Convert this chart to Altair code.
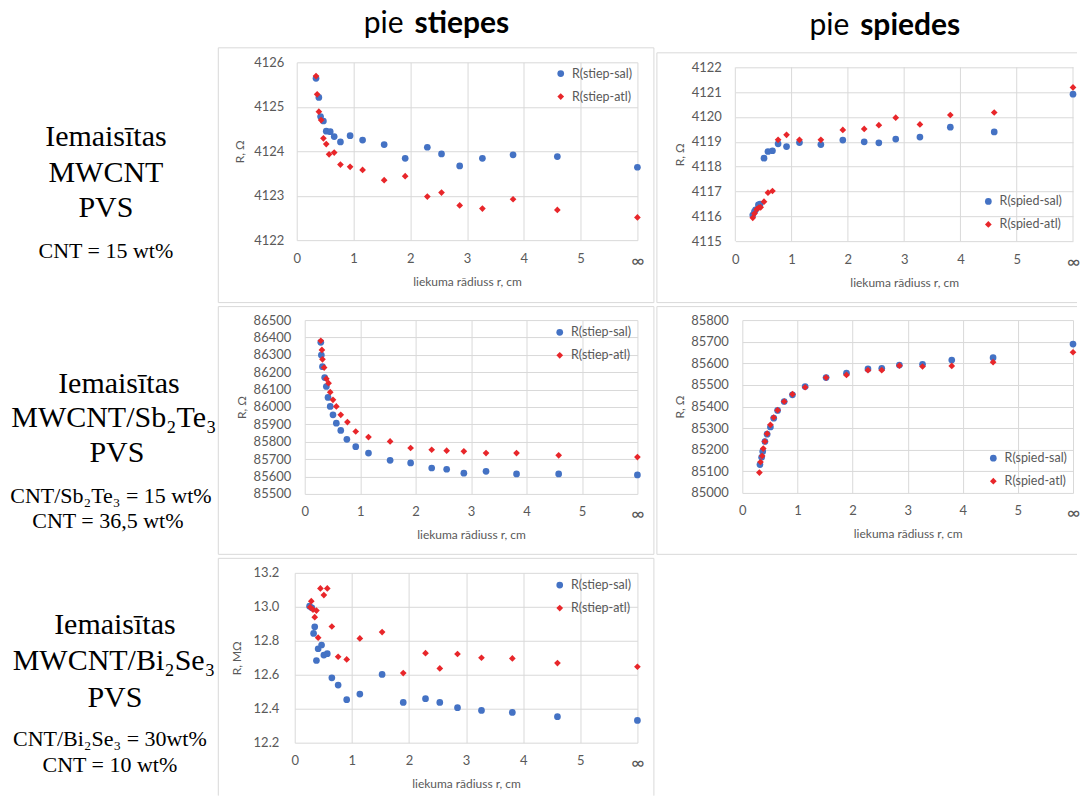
import altair as alt
import pandas as pd

# ---------------- data ----------------
# Panel 1: MWCNT, stiepes
p1_sal_r = [0.34, 0.39, 0.42, 0.47, 0.52, 0.59, 0.66, 0.77, 0.94, 1.16, 1.54, 1.91, 2.30, 2.55, 2.87, 3.27, 3.81, 4.59, 6]
p1_sal_R = [4125.64, 4125.21, 4124.78, 4124.68, 4124.45, 4124.44, 4124.33, 4124.21, 4124.35, 4124.25, 4124.15,
            4123.84, 4124.09, 4123.94, 4123.67, 4123.84, 4123.92, 4123.88, 4123.64]
p1_atl_r = [0.34, 0.36, 0.39, 0.43, 0.47, 0.52, 0.57, 0.66, 0.77, 0.94, 1.16, 1.54, 1.91, 2.30, 2.55, 2.87, 3.27, 3.81, 4.59, 6]
p1_atl_R = [4125.69, 4125.28, 4124.89, 4124.70, 4124.29, 4124.16, 4123.93, 4123.97, 4123.70, 4123.65, 4123.58,
            4123.35, 4123.44, 4122.98, 4123.07, 4122.78, 4122.71, 4122.92, 4122.68, 4122.51]

# Panel 2: MWCNT, spiedes
p2_sal_r = [0.31, 0.34, 0.36, 0.41, 0.44, 0.51, 0.58, 0.66, 0.76, 0.91, 1.14, 1.52, 1.91, 2.29, 2.55, 2.85, 3.28, 3.82, 4.60, 6]
p2_sal_R = [4116.05, 4116.19, 4116.26, 4116.46, 4116.49, 4118.34, 4118.61, 4118.64, 4118.92, 4118.81, 4118.97,
            4118.89, 4119.07, 4119.00, 4118.96, 4119.11, 4119.19, 4119.59, 4119.40, 4120.92]
p2_atl_r = [0.31, 0.34, 0.38, 0.42, 0.45, 0.51, 0.58, 0.66, 0.76, 0.91, 1.14, 1.52, 1.91, 2.29, 2.55, 2.85, 3.28, 3.82, 4.60, 6]
p2_atl_R = [4115.94, 4116.11, 4116.28, 4116.35, 4116.36, 4116.59, 4116.95, 4117.02, 4119.08, 4119.28, 4119.08,
            4119.08, 4119.48, 4119.52, 4119.67, 4119.97, 4119.70, 4120.08, 4120.18, 4121.19]

# Panel 3: MWCNT/Sb2Te3, stiepes
p3_sal_r = [0.29, 0.30, 0.32, 0.36, 0.39, 0.42, 0.46, 0.51, 0.57, 0.65, 0.76, 0.92, 1.15, 1.54, 1.91, 2.29, 2.56,
            2.87, 3.27, 3.82, 4.58, 6]
p3_sal_R = [86372, 86299, 86232, 86169, 86118, 86055, 86003, 85955, 85907, 85865, 85814, 85772, 85735, 85693,
            85678, 85649, 85642, 85619, 85630, 85615, 85615, 85609]
p3_atl_r = [0.29, 0.31, 0.32, 0.35, 0.39, 0.43, 0.46, 0.51, 0.57, 0.65, 0.77, 0.92, 1.15, 1.54, 1.91, 2.29, 2.56,
            2.87, 3.27, 3.82, 4.58, 6]
p3_atl_R = [86381, 86328, 86274, 86227, 86162, 86137, 86085, 86041, 86003, 85955, 85913, 85859, 85827, 85802,
            85764, 85754, 85749, 85745, 85735, 85735, 85722, 85712]

# Panel 4: MWCNT/Sb2Te3, spiedes
p4_sal_r = [0.32, 0.35, 0.37, 0.41, 0.45, 0.51, 0.57, 0.64, 0.76, 0.91, 1.14, 1.52, 1.89, 2.28, 2.53, 2.85, 3.27,
            3.80, 4.55, 6]
p4_sal_R = [85131, 85165, 85192, 85238, 85272, 85305, 85346, 85382, 85423, 85454, 85492, 85534, 85554, 85574,
            85577, 85592, 85595, 85615, 85626, 85689]
p4_atl_r = [0.31, 0.33, 0.36, 0.38, 0.41, 0.45, 0.51, 0.57, 0.64, 0.76, 0.91, 1.14, 1.52, 1.89, 2.28, 2.53, 2.85,
            3.27, 3.80, 4.55, 6]
p4_atl_R = [85094, 85143, 85171, 85205, 85238, 85274, 85315, 85349, 85383, 85423, 85457, 85489, 85534, 85546,
            85568, 85568, 85589, 85585, 85588, 85605, 85651]

# Panel 5: MWCNT/Bi2Se3, stiepes (MOhm)
p5_sal_r = [0.26, 0.30, 0.33, 0.35, 0.38, 0.41, 0.47, 0.51, 0.57, 0.65, 0.76, 0.91, 1.14, 1.53, 1.90, 2.29, 2.54,
            2.85, 3.27, 3.81, 4.60, 6]
p5_sal_R = [13.004, 12.994, 12.843, 12.882, 12.684, 12.753, 12.775, 12.716, 12.724, 12.582, 12.539, 12.453, 12.486,
            12.602, 12.437, 12.459, 12.437, 12.406, 12.390, 12.378, 12.353, 12.331]
p5_atl_r = [0.27, 0.29, 0.32, 0.35, 0.38, 0.41, 0.45, 0.51, 0.57, 0.65, 0.76, 0.91, 1.14, 1.53, 1.90, 2.29, 2.54,
            2.85, 3.27, 3.81, 4.60, 6]
p5_atl_R = [12.998, 13.033, 12.984, 12.939, 12.978, 12.818, 13.108, 13.069, 13.108, 12.884, 12.706, 12.690, 12.814,
            12.851, 12.610, 12.727, 12.637, 12.722, 12.700, 12.696, 12.669, 12.647]

stiep_names = ["R(stiep-sal)", "R(stiep-atl)"]
spied_names = ["R(spied-sal)", "R(spied-atl)"]
x_ticks = [0, 1, 2, 3, 4, 5, 6]
y1_ticks = [4122, 4123, 4124, 4125, 4126]
y2_ticks = [4115, 4116, 4117, 4118, 4119, 4120, 4121, 4122]
y3_ticks = [85500, 85600, 85700, 85800, 85900, 86000, 86100, 86200, 86300, 86400, 86500]
y4_ticks = [85000, 85100, 85200, 85300, 85400, 85500, 85600, 85700, 85800]
y5_ticks = [12.2, 12.4, 12.6, 12.8, 13.0, 13.2]

col_titles = [("pie", "stiepes"), ("pie", "spiedes")]
row1_lines = ["Iemaisītas", "MWCNT", "PVS", "CNT = 15 wt%"]
row2_lines = ["Iemaisītas", "MWCNT/Sb₂Te₃", "PVS", "CNT/Sb₂Te₃ = 15 wt%", "CNT = 36,5 wt%"]
row3_lines = ["Iemaisītas", "MWCNT/Bi₂Se₃", "PVS", "CNT/Bi₂Se₃ = 30wt%", "CNT = 10 wt%"]

# ---------------- styling / layout ----------------
BLUE = "#4472C4"
RED = "#E8262A"
GRID = "#D9D9D9"
FRAME = "#D9D9D9"
TXT = "#595959"
SANS = "Lato"
SERIF = "Liberation Serif"

TOTAL_W = 1078
ROWS = [(47, 305), (305, 557), (557, 796)]   # cell y-ranges of the three rows
PLOT_TOP = [62, 320, 573]                     # plot tops (aligned within a row)
LABEL_W = 218
LEFT_CELL = (218, 656)
RIGHT_CELL = (656, TOTAL_W)


def panel(sal_r, sal_R, atl_r, atl_R, names, ydom, yticks, yfmt, ytitle,
          plot, size, cell, segs, legend_orient, legend_offset, ylabpad, ytitlepad, top_pad=0):
    px, py = plot
    W, H = size
    (cx0, cx1), (cy0, cy1) = cell
    df = pd.DataFrame({
        "r": sal_r + atl_r,
        "R": sal_R + atl_R,
        "s": [names[0]] * len(sal_r) + [names[1]] * len(atl_r),
    })
    leg = alt.Legend(title=None, orient=legend_orient, offset=legend_offset, padding=0,
                     rowPadding=10, labelFontSize=12.5, labelColor=TXT, labelFont=SANS,
                     symbolSize=45, labelOffset=5, symbolStrokeWidth=0)
    yscale = alt.Scale(domain=ydom, nice=False, zero=False)
    if top_pad:
        yscale = alt.Scale(domain=ydom, nice=False, zero=False, range=[H, top_pad])
    pts = alt.Chart(df).mark_point(filled=True, size=45, opacity=1).encode(
        x=alt.X("r:Q", scale=alt.Scale(domain=[0, 6], nice=False, zero=False),
                axis=alt.Axis(values=x_ticks, format="d",
                              labelExpr="datum.value == 6 ? '∞' : format(datum.value, 'd')",
                              grid=(top_pad == 0), gridColor=GRID, gridWidth=1, domain=False, ticks=False,
                              labelPadding=12, labelColor=TXT, labelFlush=False, labelOverlap=False,
                              labelFontSize={"condition": {"test": "datum.value == 6", "value": 18},
                                             "value": 13},
                              title="liekuma rādiuss r, cm", titleFontSize=12, titleFontWeight="normal",
                              titleColor=TXT, titlePadding=6)),
        y=alt.Y("R:Q", scale=yscale,
                axis=alt.Axis(values=yticks, format=yfmt, grid=True, gridColor=GRID, gridWidth=1,
                              domain=False, ticks=False, labelPadding=ylabpad, labelFontSize=13,
                              labelColor=TXT, labelFlush=False, labelOverlap=False,
                              title=ytitle, titleFontSize=12, titleFontWeight="normal", titleColor=TXT,
                              titlePadding=ytitlepad, minExtent=30, maxExtent=30)),
        color=alt.Color("s:N", scale=alt.Scale(domain=names, range=[BLUE, RED]), legend=leg),
        shape=alt.Shape("s:N", scale=alt.Scale(domain=names, range=["circle", "diamond"]), legend=leg),
    )
    one = alt.Data(values=[{"k": 1}])
    cellrect = alt.Chart(one).mark_rect(opacity=0).encode(
        x=alt.value(cx0 - px), x2=alt.value(cx1 - px),
        y=alt.value(cy0 - py), y2=alt.value(cy1 - py))
    layers = [cellrect]
    for (ax0, ay0, ax1, ay1) in segs:
        layers.append(alt.Chart(one).mark_rule(color=FRAME, strokeWidth=1).encode(
            x=alt.value(ax0 - px), y=alt.value(ay0 - py),
            x2=alt.value(ax1 - px), y2=alt.value(ay1 - py)))
    if top_pad:
        # vertical gridlines limited to the shifted y range
        layers.append(alt.Chart(pd.DataFrame({"r": x_ticks})).mark_rule(color=GRID, strokeWidth=1).encode(
            x="r:Q", y=alt.value(top_pad), y2=alt.value(H)))
    layers.append(pts)
    return alt.layer(*layers).properties(width=W, height=H)


def box(x0, y0, x1, y1, sides="ltrb"):
    s = []
    if "l" in sides:
        s.append((x0, y0, x0, y1))
    if "r" in sides:
        s.append((x1, y0, x1, y1))
    if "t" in sides:
        s.append((x0, y0, x1, y0))
    if "b" in sides:
        s.append((x0, y1, x1, y1))
    return s


def label_chart(lines, xs, ys, sizes, row_idx):
    top = PLOT_TOP[row_idx]
    bottom = ROWS[row_idx][1]
    df = pd.DataFrame({"t": lines, "x": xs, "y": [v - top for v in ys], "fs": sizes})
    return alt.Chart(df).mark_text(font=SERIF, color="black", align="center", baseline="alphabetic",
                                   clip=True).encode(
        x=alt.X("x:Q", scale=None), y=alt.Y("y:Q", scale=None),
        size=alt.Size("fs:Q", scale=None, legend=None), text="t:N",
    ).properties(width=LABEL_W, height=bottom - top)


# header with column titles
hdf_norm = pd.DataFrame({"t": [col_titles[0][0], col_titles[1][0]], "x": [404, 850], "y": [33, 35]})
hdf_bold = pd.DataFrame({"t": [col_titles[0][1], col_titles[1][1]], "x": [415, 861], "y": [33, 35]})
h_norm = alt.Chart(hdf_norm).mark_text(font=SANS, fontSize=30, align="right", baseline="alphabetic",
                                       color="black").encode(
    x=alt.X("x:Q", scale=None), y=alt.Y("y:Q", scale=None), text="t:N")
h_bold = alt.Chart(hdf_bold).mark_text(font=SANS, fontSize=30, fontWeight="bold", align="left",
                                       baseline="alphabetic", color="black").encode(
    x=alt.X("x:Q", scale=None), y=alt.Y("y:Q", scale=None), text="t:N")
header = alt.layer(h_norm, h_bold).properties(width=TOTAL_W, height=ROWS[0][0])

# left column labels
lab1 = label_chart(row1_lines, [106, 106, 106, 106], [146, 182, 217, 258], [30, 30, 30, 22], 0)
lab2 = label_chart(row2_lines, [119, 114, 117, 111, 108], [393, 427, 462, 503, 528], [30, 30, 30, 22, 22], 1)
lab3 = label_chart(row3_lines, [115, 114, 115, 110, 110], [634, 670, 707, 746, 772], [30, 30, 30, 22, 22], 2)

# panels
P1 = panel(p1_sal_r, p1_sal_R, p1_atl_r, p1_atl_R, stiep_names, [4122, 4126], y1_ticks, "d", "R, Ω",
           plot=(297, 62), size=(341, 178), cell=(LEFT_CELL, ROWS[0]),
           segs=box(218.5, 47.5, 654.5, 302.5), legend_orient="top-right", legend_offset=5,
           ylabpad=13, ytitlepad=20)
P2 = panel(p2_sal_r, p2_sal_R, p2_atl_r, p2_atl_R, spied_names, [4115, 4122], y2_ticks, "d", "R, Ω",
           plot=(736, 62), size=(338, 179), cell=(RIGHT_CELL, ROWS[0]),
           segs=box(657.5, 52.5, TOTAL_W, 302.5, "ltb"), legend_orient="bottom-right", legend_offset=10,
           ylabpad=14, ytitlepad=19, top_pad=5)
P3 = panel(p3_sal_r, p3_sal_R, p3_atl_r, p3_atl_R, stiep_names, [85500, 86500], y3_ticks, "d", "R, Ω",
           plot=(305, 320), size=(333, 174), cell=(LEFT_CELL, ROWS[1]),
           segs=box(218.5, 306.5, 654.5, 554.5), legend_orient="top-right", legend_offset=6,
           ylabpad=14, ytitlepad=26)
P4 = panel(p4_sal_r, p4_sal_R, p4_atl_r, p4_atl_R, spied_names, [85000, 85800], y4_ticks, "d", "R, Ω",
           plot=(743, 320), size=(331, 173), cell=(RIGHT_CELL, ROWS[1]),
           segs=box(657.5, 306.5, TOTAL_W, 554.5, "ltb"), legend_orient="bottom-right", legend_offset=5,
           ylabpad=14, ytitlepad=26)
P5 = panel(p5_sal_r, p5_sal_R, p5_atl_r, p5_atl_R, stiep_names, [12.2, 13.2], y5_ticks, ".1f", "R, MΩ",
           plot=(295, 573), size=(343, 170), cell=(LEFT_CELL, ROWS[2]),
           segs=box(218.5, 558.5, 654.5, 796, "ltr"), legend_orient="top-right", legend_offset=6,
           ylabpad=16, ytitlepad=21)

ind = dict(color="independent", shape="independent")
row1 = alt.hconcat(lab1, P1, P2, spacing=0).resolve_scale(**ind).resolve_legend(**ind)
row2 = alt.hconcat(lab2, P3, P4, spacing=0).resolve_scale(**ind).resolve_legend(**ind)
row3 = alt.hconcat(lab3, P5, spacing=0).resolve_scale(**ind).resolve_legend(**ind)

chart = alt.vconcat(header, row1, row2, row3, spacing=0).resolve_scale(**ind).resolve_legend(**ind).properties(
    padding=0, background="white"
).configure_view(stroke=None).configure_axis(labelFont=SANS, titleFont=SANS).configure_legend(labelFont=SANS)

chart.save("out.html", embed_options={"renderer": "svg", "actions": False})
